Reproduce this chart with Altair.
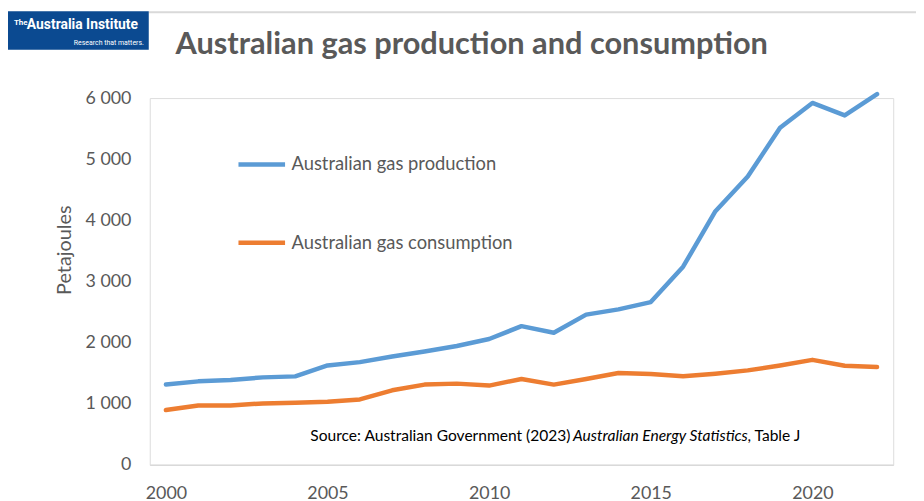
import altair as alt
import pandas as pd

years = list(range(2000, 2023))
production = [1313, 1366, 1389, 1431, 1447, 1626, 1680, 1772, 1853, 1945, 2058, 2269,
              2161, 2458, 2544, 2663, 3241, 4149, 4716, 5515, 5921, 5716, 6066]
consumption = [896, 972, 972, 1005, 1016, 1032, 1070, 1220, 1313, 1329, 1297, 1405,
               1313, 1405, 1502, 1486, 1448, 1491, 1545, 1626, 1718, 1621, 1600]
series_names = ["Australian gas production", "Australian gas consumption"]
series_colors = ["#5B9BD5", "#ED7D31"]
x_ticks = [2000, 2005, 2010, 2015, 2020]
y_ticks = [0, 1000, 2000, 3000, 4000, 5000, 6000]

title_text = "Australian gas production and consumption"
source_plain = "Source: Australian Government (2023)"
source_italic = "Australian Energy Statistics"
source_tail = ", Table J"

FONT = "Lato"
GREY = "#595959"

df = pd.DataFrame({
    "Year": years * 2,
    "Value": production + consumption,
    "Series": [series_names[0]] * len(years) + [series_names[1]] * len(years),
})

W, H = 750, 370

lines = alt.Chart(df).mark_line(strokeWidth=4.5, strokeCap="round", strokeJoin="round").encode(
    x=alt.X("Year:Q",
            scale=alt.Scale(domain=[1999.5, 2022.5], nice=False, zero=False),
            axis=alt.Axis(values=x_ticks, format="d", title=None, grid=False, ticks=False,
                          domain=True, domainColor="#D9D9D9", domainWidth=1.5,
                          labelFont=FONT, labelFontSize=18, labelColor=GREY,
                          labelPadding=20, labelFlush=False)),
    y=alt.Y("Value:Q",
            scale=alt.Scale(domain=[0, 6000], nice=False),
            axis=alt.Axis(values=y_ticks, grid=False, ticks=False, domain=False,
                          labelExpr="replace(format(datum.value, ','), ',', ' ')",
                          labelFont=FONT, labelFontSize=18, labelColor=GREY, labelPadding=19,
                          title="Petajoules", titleFont=FONT, titleFontSize=20,
                          titleFontWeight="normal", titleColor=GREY,
                          titleX=-86, titleY=153, titleAngle=270,
                          titleAlign="center", titleBaseline="middle")),
    color=alt.Color("Series:N",
                    scale=alt.Scale(domain=series_names, range=series_colors),
                    legend=alt.Legend(title=None, orient="none", legendX=87, legendY=41,
                                      symbolType="stroke", symbolSize=2209,
                                      symbolStrokeWidth=4.5, labelFont=FONT,
                                      labelFontSize=18.5, labelColor=GREY, labelLimit=0,
                                      labelOffset=4, rowPadding=43)),
)

ann = pd.DataFrame({"t": [title_text]})
title = alt.Chart(ann).mark_text(align="left", baseline="alphabetic", font=FONT,
                                 fontSize=31, fontWeight="bold", color=GREY).encode(
    x=alt.value(26), y=alt.value(-44.7), text="t:N")

SRC_SIZE = 15.7
src1 = alt.Chart(pd.DataFrame({"t": [source_plain]})).mark_text(
    align="left", baseline="alphabetic", font=FONT, fontSize=SRC_SIZE, color="#000000").encode(
    x=alt.value(162), y=alt.value(346.3), text="t:N")
src2 = alt.Chart(pd.DataFrame({"t": [source_italic]})).mark_text(
    align="left", baseline="alphabetic", font=FONT, fontSize=SRC_SIZE, fontStyle="italic",
    color="#000000").encode(x=alt.value(427), y=alt.value(346.3), text="t:N")
src3 = alt.Chart(pd.DataFrame({"t": [source_tail]})).mark_text(
    align="left", baseline="alphabetic", font=FONT, fontSize=SRC_SIZE, color="#000000").encode(
    x=alt.value(603), y=alt.value(346.3), text="t:N")

logo_df = pd.DataFrame({"a": ["The"], "b": ["Australia Institute"], "c": ["Research that matters."]})
logo_box = alt.Chart(logo_df).mark_rect(color="#0B4A91").encode(
    x=alt.value(-146), x2=alt.value(-1), y=alt.value(-87.7), y2=alt.value(-48.7))
logo_the = alt.Chart(logo_df).mark_text(align="left", baseline="alphabetic", font="Roboto",
                                        fontSize=8, fontWeight="bold", color="white").encode(
    x=alt.value(-137), y=alt.value(-74), text="a:N")
logo_name = alt.Chart(logo_df).mark_text(align="left", baseline="alphabetic", font="Roboto",
                                         fontSize=14, fontWeight="bold", color="white").encode(
    x=alt.value(-124), y=alt.value(-69.5), text="b:N")
logo_tag = alt.Chart(logo_df).mark_text(align="right", baseline="alphabetic", font="Roboto",
                                        fontSize=7, color="white").encode(
    x=alt.value(-6), y=alt.value(-54), text="c:N")

frame = alt.Chart(logo_df).mark_rule(color="#D9D9D9", strokeWidth=2).encode(
    x=alt.value(-1), x2=alt.value(780), y=alt.value(-86.7))

chart = alt.layer(frame, logo_box, logo_the, logo_name, logo_tag, title,
                  lines, src1, src2, src3).properties(
    width=W, height=H,
    autosize=alt.AutoSizeParams(type="none"),
    padding={"left": 143, "top": 88.7, "right": 23, "bottom": 34.3},
).configure_view(stroke=None).configure(background="white")

chart.save("out.html", embed_options={"renderer": "svg", "actions": False})
